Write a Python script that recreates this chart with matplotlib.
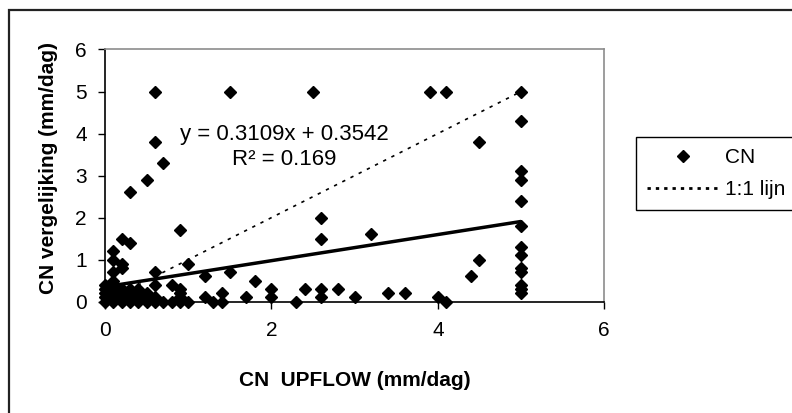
import matplotlib
matplotlib.use("Agg")
import matplotlib.pyplot as plt
from matplotlib.lines import Line2D
from matplotlib.patches import Rectangle

plt.rcParams['font.family'] = ['Liberation Sans', 'DejaVu Sans']

# CN UPFLOW vs CN vergelijking (mm/dag)
x_upflow = [
    0, 0, 0, 0, 0,
    0.1, 0.1, 0.1, 0.1, 0.1, 0.1, 0.1, 0.1, 0.1,
    0.2, 0.2, 0.2, 0.2, 0.2, 0.2, 0.2,
    0.3, 0.3, 0.3, 0.3, 0.3, 0.3,
    0.4, 0.4, 0.4, 0.4,
    0.5, 0.5, 0.5, 0.5,
    0.6, 0.6, 0.6, 0.6, 0.6, 0.6,
    0.7, 0.7,
    0.8, 0.8,
    0.9, 0.9, 0.9, 0.9, 0.9,
    1.0, 1.0,
    1.2, 1.2,
    1.3,
    1.4, 1.4,
    1.5, 1.5,
    1.7, 1.8,
    2.0, 2.0,
    2.3, 2.4, 2.5,
    2.6, 2.6, 2.6, 2.6,
    2.8, 3.0, 3.2, 3.4, 3.6, 3.9, 4.0,
    4.1, 4.1,
    4.4, 4.5, 4.5,
    5, 5, 5, 5, 5, 5, 5, 5, 5, 5, 5, 5, 5,
]
y_vergelijking = [
    0, 0.1, 0.2, 0.3, 0.4,
    0, 0.1, 0.2, 0.3, 0.4, 0.5, 0.7, 1.0, 1.2,
    0, 0.1, 0.2, 0.3, 0.8, 0.9, 1.5,
    0, 0.1, 0.2, 0.3, 1.4, 2.6,
    0, 0.1, 0.2, 0.3,
    0, 0.1, 0.2, 2.9,
    0, 0.1, 0.4, 0.7, 3.8, 5.0,
    0, 3.3,
    0, 0.4,
    0, 0.1, 0.2, 0.3, 1.7,
    0, 0.9,
    0.1, 0.6,
    0,
    0, 0.2,
    0.7, 5.0,
    0.1, 0.5,
    0.1, 0.3,
    0, 0.3, 5.0,
    0.1, 0.3, 1.5, 2.0,
    0.3, 0.1, 1.6, 0.2, 0.2, 5.0, 0.1,
    0, 5.0,
    0.6, 1.0, 3.8,
    0.2, 0.3, 0.4, 0.7, 0.8, 1.1, 1.3, 1.8, 2.4, 2.9, 3.1, 4.3, 5.0,
]

# linear trendline shown in the chart
slope = 0.3109
intercept = 0.3542
r_squared = 0.169

x_ticks = [0, 2, 4, 6]
y_ticks = [0, 1, 2, 3, 4, 5, 6]

fig = plt.figure(figsize=(7.92, 4.13), dpi=100)

# outer chart frame (runs off the right and bottom edge like the original)
fig.patches.append(Rectangle((9 / 792, -0.1), 1.2, 1 - 10 / 413 + 0.1,
                             transform=fig.transFigure, fill=False,
                             edgecolor="#222222", linewidth=1.6))

ax = fig.add_axes([105 / 792, 1 - 301.7 / 413, 499.3 / 792, 252.2 / 413])

ax.plot(x_upflow, y_vergelijking, linestyle="none", marker="D", markersize=5.8,
        color="black", clip_on=False, zorder=3)

x_min, x_max = min(x_upflow), max(x_upflow)
ax.plot([x_min, x_max], [slope * x_min + intercept, slope * x_max + intercept],
        color="black", linewidth=2.5, solid_capstyle="butt", zorder=4)
ax.plot([x_min, x_max], [x_min, x_max], color="black", linewidth=1.2,
        linestyle=(0, (2, 3.5)), zorder=2)

ax.text(2.15, 3.67, f"y = {slope}x + {intercept}\nR² = {r_squared}",
        ha="center", va="center", multialignment="center",
        fontsize=16, linespacing=1.25)

ax.set_xlim(0, 6)
ax.set_ylim(0, 6)
ax.set_xticks(x_ticks)
ax.set_yticks(y_ticks)
ax.tick_params(axis="both", direction="out", length=5, width=1, labelsize=15)
ax.tick_params(axis="x", pad=9)
ax.tick_params(axis="y", pad=8)

for side in ["left", "bottom"]:
    ax.spines[side].set_color("black")
    ax.spines[side].set_linewidth(1.2)
for side in ["top", "right"]:
    ax.spines[side].set_color("#8c8c8c")
    ax.spines[side].set_linewidth(1.2)

ax.set_xlabel("CN  UPFLOW (mm/dag)", fontsize=15, fontweight="bold")
ax.set_ylabel("CN vergelijking (mm/dag)", fontsize=15, fontweight="bold")
ax.xaxis.set_label_coords(0.5, -0.274)
ax.yaxis.set_label_coords(-0.095, 0.53)

handles = [
    Line2D([], [], linestyle="none", marker="D", markersize=5.8, color="black"),
    Line2D([], [], color="black", linewidth=2, linestyle=(0, (1.2, 1.8))),
]
leg = fig.legend(handles, ["CN", "1:1 lijn"], loc="upper left",
                 bbox_to_anchor=(636 / 792, 1 - 137 / 413), fontsize=15,
                 frameon=True, fancybox=False, framealpha=1, edgecolor="black",
                 borderpad=0.55, labelspacing=0.6, handlelength=3.4,
                 handletextpad=0.3, borderaxespad=0)
leg.get_frame().set_linewidth(1)

fig.savefig("out.png", dpi=100)
